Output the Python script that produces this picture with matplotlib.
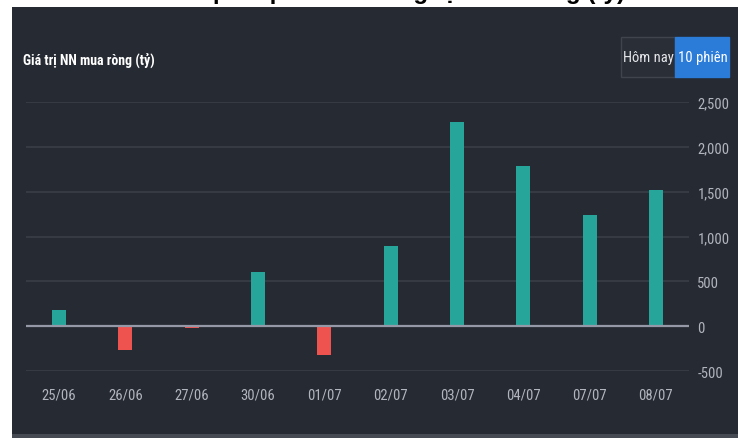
import matplotlib
matplotlib.use("Agg")
import matplotlib.pyplot as plt
from matplotlib.patches import Rectangle
from matplotlib import font_manager
import numpy as np

categories = ["25/06", "26/06", "27/06", "30/06", "01/07", "02/07", "03/07", "04/07", "07/07", "08/07"]
values = [180, -270, -15, 600, -320, 890, 2275, 1785, 1240, 1515]
y_ticks = [-500, 0, 500, 1000, 1500, 2000, 2500]
y_tick_labels = ["-500", "0", "500", "1,000", "1,500", "2,000", "2,500"]
chart_label = "Giá trị NN mua ròng (tỷ)"
buttons = ["Hôm nay", "10 phiên"]
cut_title = "Top cổ phiếu khối ngoại mua ròng (tỷ)"

W, H = 738, 439
BG = "#262a33"
GREEN = "#26a69a"
RED = "#ef5350"
GRID = "#3a3e47"
ZERO = "#9598a6"
TICK = "#b2b5be"

names = {f.name for f in font_manager.fontManager.ttflist}
NARROW = [n for n in ["Roboto Condensed", "Liberation Sans Narrow", "Open Sans Condensed"] if n in names]
condensed = len(NARROW) > 0
NARROW = NARROW + ["Roboto", "DejaVu Sans"]

fig = plt.figure(figsize=(W / 100, H / 100), dpi=100)
fig.patch.set_facecolor("white")

def fx(px):
    return px / W

def fy(py):
    return 1 - py / H

# dark panel
fig.patches.append(Rectangle((fx(12), fy(435)), fx(738) - fx(12), fy(8) - fy(435),
                             transform=fig.transFigure, facecolor=BG, edgecolor="none", zorder=-2))
fig.patches.append(Rectangle((fx(12), fy(439)), fx(738) - fx(12), fy(435) - fy(439),
                             transform=fig.transFigure, facecolor="#464a53", edgecolor="none", zorder=-2))

# cut-off title at very top (only its lowest part is visible)
fig.text(fx(405), fy(3.5), cut_title, ha="center", va="bottom", fontsize=17.5,
         fontweight="bold", color="black", family=["Liberation Sans", "DejaVu Sans"], zorder=1)

lab_size = 10 if condensed else 8.8
btn_size = 10.5 if condensed else 9.2
tick_size = 10.5 if condensed else 9.2

# chart label
fig.text(fx(23), fy(60), chart_label, ha="left", va="center", fontsize=lab_size,
         fontweight="bold", color="white", family=NARROW)

# buttons
fig.patches.append(Rectangle((fx(620.5), fy(77.5)), fx(675) - fx(620.5), fy(38) - fy(77.5),
                             transform=fig.transFigure, facecolor="#2a2e37", edgecolor="#40444d",
                             linewidth=1, zorder=2))
fig.patches.append(Rectangle((fx(675), fy(77.5)), fx(729) - fx(675), fy(38) - fy(77.5),
                             transform=fig.transFigure, facecolor="#2b7bd8", edgecolor="#2b7bd8",
                             linewidth=1, zorder=2))
fig.text(fx(648.5), fy(58), buttons[0], ha="center", va="center", fontsize=btn_size,
         color="#e6e7ea", family=NARROW, zorder=3)
fig.text(fx(702.5), fy(58), buttons[1], ha="center", va="center", fontsize=btn_size,
         color="white", family=NARROW, zorder=3)

# axes
ax = fig.add_axes([fx(26), fy(372), fx(689) - fx(26), fy(103) - fy(372)])
ax.set_zorder(5)
ax.set_facecolor("none")
x = np.arange(len(categories))
colors = [GREEN if v >= 0 else RED for v in values]
ax.bar(x, values, width=0.21, color=colors, zorder=3)
ax.set_xlim(-0.5, len(categories) - 0.5)
ax.set_ylim(-500, 2500)
for t in y_ticks:
    if t == 0:
        ax.axhline(t, color=ZERO, linewidth=1.6, zorder=4)
    else:
        ax.axhline(t, color=GRID, linewidth=1.2, zorder=1)
ax.set_yticks(y_ticks)
ax.set_yticklabels(y_tick_labels)
ax.yaxis.tick_right()
ax.set_xticks(x)
ax.set_xticklabels(categories)
ax.tick_params(axis="both", length=0, colors=TICK, labelsize=tick_size)
ax.tick_params(axis="y", pad=6)
ax.tick_params(axis="x", pad=12)
for lab in ax.get_xticklabels() + ax.get_yticklabels():
    lab.set_family(NARROW)
for s in ax.spines.values():
    s.set_visible(False)

fig.savefig("out.png", dpi=100, facecolor=fig.get_facecolor())
